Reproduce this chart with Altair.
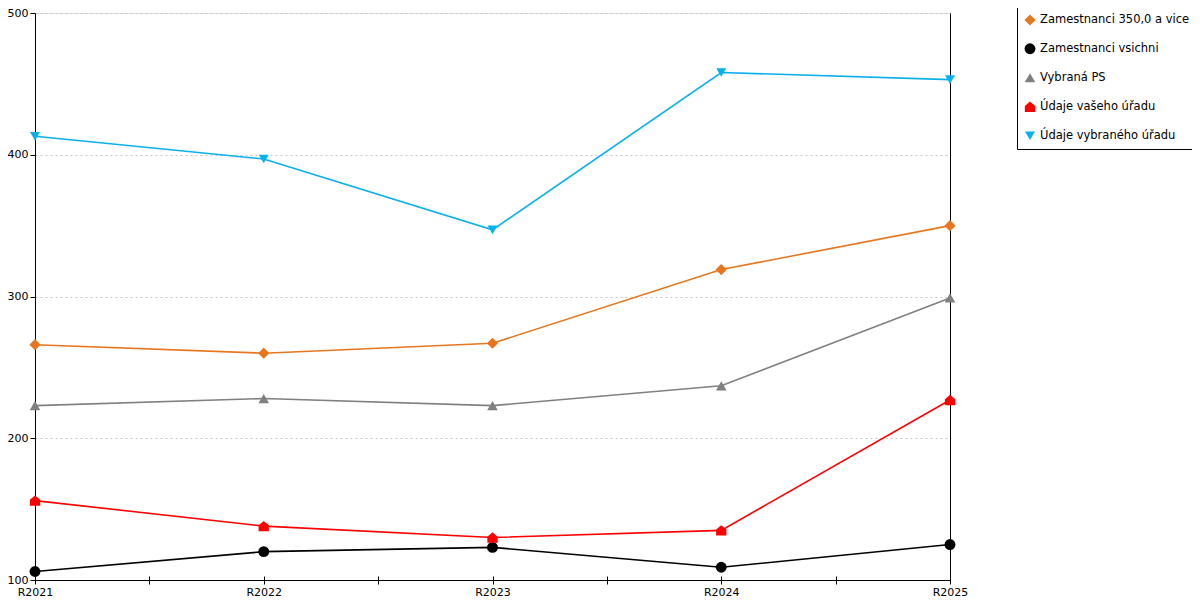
import altair as alt
import pandas as pd

years = [2021, 2022, 2023, 2024, 2025]
series_names = [
    "Zamestnanci 350,0 a vice",
    "Zamestnanci vsichni",
    "Vybraná PS",
    "Údaje vašeho úřadu",
    "Údaje vybraného úřadu",
]
zam_350 = [266, 260, 267, 319, 350]
zam_vsichni = [106, 120, 123, 109, 125]
vybrana_ps = [223, 228, 223, 237, 299]
vaseho_uradu = [156, 138, 130, 135, 227]
vybraneho_uradu = [413, 397, 347, 458, 453]

colors = ["#E8761E", "#000000", "#808080", "#FF0000", "#0AB0EC"]
house = "M-1,1L-1,-0.15L0,-1L1,-0.15L1,1Z"
shapes = ["diamond", "circle", "triangle-up", house, "triangle-down"]
sizes = [125, 100, 160, 125, 160]

all_values = [zam_350, zam_vsichni, vybrana_ps, vaseho_uradu, vybraneho_uradu]
rows = []
for name, vals in zip(series_names, all_values):
    for y, v in zip(years, vals):
        rows.append({"series": name, "year": y, "value": v})
df = pd.DataFrame(rows)

tick_vals = [2021, 2021.5, 2022, 2022.5, 2023, 2023.5, 2024, 2024.5, 2025]
W, H = 915, 567
TOP = 5
FONT = "DejaVu Sans"

xscale = alt.Scale(domain=[2021, 2025], nice=False, zero=False)
yscale = alt.Scale(domain=[100, 500], nice=False, zero=False)

legend_spec = dict(
    title=" ",
    titleFontSize=5,
    titlePadding=1,
    orient="none",
    legendX=982,
    legendY=1 - 8 - TOP,
    strokeColor="black",
    fillColor="white",
    padding=7,
    labelFont=FONT,
    labelFontSize=11.5,
    labelColor="black",
    rowPadding=16,
    symbolStrokeWidth=0,
    labelOffset=4,
)

lines = alt.Chart(df).mark_line(strokeWidth=1.6).encode(
    x=alt.X(
        "year:Q",
        scale=xscale,
        axis=alt.Axis(
            values=tick_vals,
            labelExpr="datum.value % 1 == 0 ? 'R' + datum.value : ''",
            tickSize=4,
            grid=False,
            domainColor="black",
            tickColor="black",
            labelColor="black",
            labelFont=FONT,
            labelFontSize=11,
            labelPadding=2,
            labelFlush=False,
            labelOverlap=False,
            title=None,
        ),
    ),
    y=alt.Y(
        "value:Q",
        scale=yscale,
        axis=alt.Axis(
            values=[100, 200, 300, 400, 500],
            tickSize=5,
            grid=True,
            gridDash=[2, 3],
            gridColor="#c4c4c4",
            domainColor="black",
            tickColor="black",
            labelColor="black",
            labelFont=FONT,
            labelFontSize=11,
            labelPadding=2,
            labelFlush=False,
            title=None,
        ),
    ),
    stroke=alt.Stroke(
        "series:N",
        scale=alt.Scale(domain=series_names, range=colors),
        legend=alt.Legend(**legend_spec),
    ),
    detail="series:N",
)

points = alt.Chart(df).mark_point(filled=True, opacity=1).encode(
    x=alt.X(
        "year:Q",
        scale=xscale,
        axis=alt.Axis(
            orient="top",
            offset=-H,
            values=tick_vals,
            labels=False,
            domain=False,
            tickSize=4,
            tickColor="black",
            grid=False,
            title=None,
        ),
    ),
    y=alt.Y(
        "value:Q",
        scale=yscale,
        axis=alt.Axis(
            orient="right",
            labels=False,
            ticks=False,
            grid=False,
            domainColor="black",
            title=None,
        ),
    ),
    color=alt.Color(
        "series:N",
        scale=alt.Scale(domain=series_names, range=colors),
        legend=alt.Legend(**legend_spec),
    ),
    shape=alt.Shape(
        "series:N",
        scale=alt.Scale(domain=series_names, range=shapes),
        legend=alt.Legend(**legend_spec),
    ),
    size=alt.Size(
        "series:N",
        scale=alt.Scale(domain=series_names, range=sizes),
        legend=alt.Legend(**legend_spec),
    ),
)

chart = (
    alt.layer(lines, points)
    .resolve_axis(x="independent", y="independent")
    .properties(
        width=W,
        height=H,
        autosize=alt.AutoSizeParams(type="none"),
        padding={"left": 27, "top": TOP, "right": 242, "bottom": 18},
    )
    .configure_view(stroke=None)
    .configure(background="white")
)

chart.save("out.html", embed_options={"renderer": "svg", "actions": False})
